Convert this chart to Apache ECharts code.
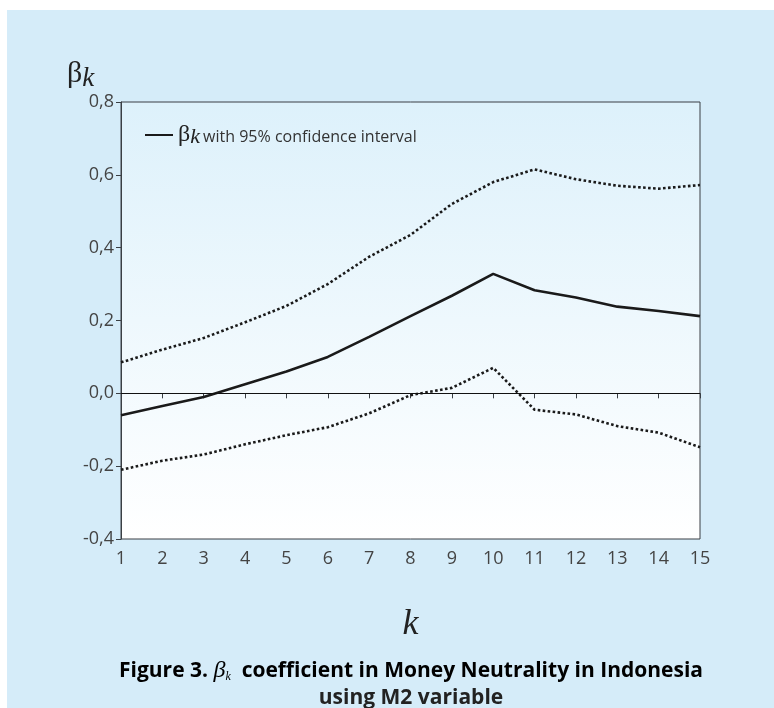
<!DOCTYPE html>
<html>
<head>
<meta charset="utf-8">
<script src="https://cdn.jsdelivr.net/npm/echarts@6/dist/echarts.min.js"></script>
<style>
	html, body { margin: 0; padding: 0; background: #fff; }
	#frame { position: absolute; left: 7px; top: 10px; width: 767px; height: 698px; background: #d5ecf9; }
	#chart { position: absolute; left: 0; top: 0; width: 774px; height: 708px; }
</style>
</head>
<body>
<div id="frame"></div>
<div id="chart"></div>
<script>
// k = 1..15
const lags = [1, 2, 3, 4, 5, 6, 7, 8, 9, 10, 11, 12, 13, 14, 15];
const beta = [-0.06, -0.035, -0.01, 0.025, 0.06, 0.10, 0.155, 0.212, 0.268, 0.328, 0.283, 0.263, 0.238, 0.226, 0.212];
const upper = [0.085, 0.12, 0.152, 0.195, 0.24, 0.30, 0.375, 0.435, 0.52, 0.58, 0.615, 0.588, 0.57, 0.562, 0.572];
const lower = [-0.21, -0.185, -0.168, -0.14, -0.115, -0.093, -0.055, -0.005, 0.015, 0.07, -0.045, -0.058, -0.09, -0.108, -0.148];

const pairs = (ys) => lags.map((k, i) => [k, ys[i]]);

const chart = echarts.init(document.getElementById('chart'), null, { renderer: 'canvas' });

const dotted = {
	color: '#1a1a1a',
	width: 2.6,
	type: [2.6, 2.4],
};

const option = {
	animation: false,
	backgroundColor: 'transparent',
	textStyle: { fontFamily: 'Open Sans' },
	grid: {
		left: 121,
		right: 74,
		top: 102,
		bottom: 169,
		show: true,
		borderColor: '#3a3f44',
		borderWidth: 1,
		backgroundColor: new echarts.graphic.LinearGradient(0, 0, 0, 1, [
			{ offset: 0, color: '#ddf1fb' },
			{ offset: 1, color: '#ffffff' },
		]),
	},
	title: {
		text: '{b|β}{k|k}',
		left: 62,
		top: 52,
		textStyle: {
			fontWeight: 'normal',
			rich: {
				b: { fontFamily: 'Liberation Serif', fontWeight: 'normal', fontSize: 30, color: '#222' },
				k: { fontFamily: 'Liberation Serif', fontWeight: 'normal', fontStyle: 'italic', fontSize: 27, color: '#222', padding: [8, 0, 0, 0] },
			},
		},
	},
	legend: {
		data: ['beta'],
		left: 140,
		top: 118,
		icon: 'rect',
		itemWidth: 28,
		itemHeight: 2,
		itemGap: 4,
		formatter: () => '{b|β}{k|k} {t|with 95% confidence interval}',
		textStyle: {
			rich: {
				b: { fontFamily: 'Liberation Serif', fontSize: 24, color: '#222' },
				k: { fontFamily: 'Liberation Serif', fontStyle: 'italic', fontSize: 22, color: '#222', padding: [5, 0, 0, 0] },
				t: { fontFamily: 'Open Sans', fontSize: 16, color: '#333', padding: [4, 0, 0, 0] },
			},
		},
	},
	xAxis: {
		type: 'value',
		min: 1,
		max: 15,
		interval: 1,
		name: 'k',
		nameLocation: 'middle',
		nameGap: 68,
		nameTextStyle: { fontFamily: 'Liberation Serif', fontStyle: 'italic', fontSize: 36, color: '#222' },
		axisLine: { lineStyle: { color: '#3a3f44', width: 1 } },
		axisTick: { show: true, length: 5, lineStyle: { color: '#3a3f44' } },
		axisLabel: { color: '#444', fontSize: 18, margin: 11 },
		splitLine: { show: false },
	},
	yAxis: {
		type: 'value',
		min: -0.4,
		max: 0.8,
		interval: 0.2,
		axisLine: { show: true, lineStyle: { color: '#3a3f44', width: 1 } },
		axisTick: { show: true, length: 5, lineStyle: { color: '#3a3f44' } },
		axisLabel: {
			color: '#444',
			fontSize: 18,
			margin: 7,
			formatter: (v) => v.toFixed(1).replace('.', ','),
		},
		splitLine: { show: false },
	},
	series: [
		{
			name: 'beta',
			type: 'line',
			data: pairs(beta),
			showSymbol: false,
			lineStyle: { color: '#1a1a1a', width: 2.6 },
			itemStyle: { color: '#1a1a1a' },
			markLine: {
				silent: true,
				symbol: 'none',
				label: { show: false },
				lineStyle: { color: '#111', width: 1, type: 'solid' },
				data: [{ yAxis: 0 }],
			},
			z: 3,
		},
		{
			name: 'upper',
			type: 'line',
			data: pairs(upper),
			showSymbol: false,
			lineStyle: dotted,
			itemStyle: { color: '#1a1a1a' },
		},
		{
			name: 'lower',
			type: 'line',
			data: pairs(lower),
			showSymbol: false,
			lineStyle: dotted,
			itemStyle: { color: '#1a1a1a' },
		},
	],
	graphic: [
		{
			type: 'text',
			x: 411,
			y: 671,
			style: {
				text: '{t|Figure 3. }{b|β}{k|k}{t|  coefficient in Money Neutrality in Indonesia}',
				align: 'center',
				verticalAlign: 'middle',
				rich: {
					t: { fontFamily: 'Open Sans', fontWeight: 'bold', fontSize: 21, color: '#222' },
					b: { fontFamily: 'Liberation Serif', fontStyle: 'italic', fontSize: 24, color: '#222' },
					k: { fontFamily: 'Liberation Serif', fontStyle: 'italic', fontSize: 12, color: '#222', padding: [12, 0, 0, 0] },
				},
			},
		},
		{
			type: 'text',
			x: 411,
			y: 698,
			style: {
				text: 'using M2 variable',
				align: 'center',
				verticalAlign: 'middle',
				font: 'bold 21px "Open Sans"',
				fill: '#222',
			},
		},
	],
};

chart.setOption(option);
</script>
</body>
</html>
